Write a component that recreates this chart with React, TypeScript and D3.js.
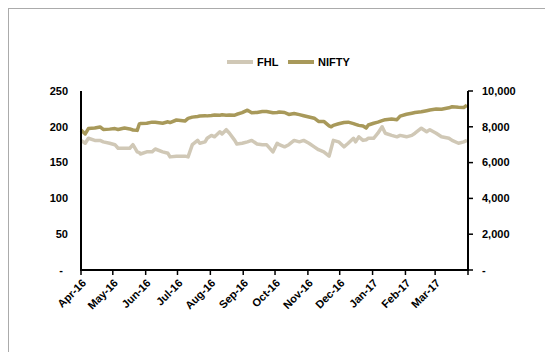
import React from "react";
import * as d3 from "d3";

const dates = [
  "2016-04-01", "2016-04-05", "2016-04-08", "2016-04-14", "2016-04-19", "2016-04-22", "2016-04-28",
  "2016-05-03", "2016-05-06", "2016-05-12", "2016-05-17", "2016-05-20", "2016-05-24", "2016-05-26",
  "2016-05-27", "2016-06-02", "2016-06-07", "2016-06-10", "2016-06-17", "2016-06-22", "2016-06-24",
  "2016-06-30", "2016-07-08", "2016-07-11", "2016-07-15", "2016-07-20", "2016-07-22", "2016-07-27",
  "2016-07-29", "2016-08-02", "2016-08-05", "2016-08-10", "2016-08-12", "2016-08-16", "2016-08-19",
  "2016-08-24", "2016-08-26", "2016-08-31", "2016-09-05", "2016-09-09", "2016-09-14", "2016-09-19",
  "2016-09-23", "2016-09-29", "2016-10-03", "2016-10-05", "2016-10-10", "2016-10-14", "2016-10-19",
  "2016-10-24", "2016-10-28", "2016-11-02", "2016-11-07", "2016-11-11", "2016-11-16", "2016-11-21",
  "2016-11-23", "2016-11-25", "2016-11-30", "2016-12-05", "2016-12-09", "2016-12-14", "2016-12-16",
  "2016-12-19", "2016-12-23", "2016-12-26", "2016-12-28", "2017-01-02", "2017-01-06", "2017-01-10",
  "2017-01-13", "2017-01-19", "2017-01-24", "2017-01-27", "2017-02-02", "2017-02-07", "2017-02-10",
  "2017-02-16", "2017-02-21", "2017-02-24", "2017-03-02", "2017-03-07", "2017-03-14", "2017-03-17",
  "2017-03-23", "2017-03-28", "2017-03-31",
];

const fhl = [
  181, 177, 184, 181, 181, 179, 177,
  175, 170, 170, 170, 175, 165, 164,
  162, 165, 165, 169, 165, 163, 158,
  159, 159, 158, 175, 181, 177, 179,
  184, 188, 186, 193, 190, 196, 191,
  181, 176, 177, 179, 181, 176, 175,
  175, 165, 177, 175, 172, 175, 181,
  179, 181, 177, 172, 168, 165, 159,
  170, 181, 179, 172, 177, 184, 179,
  186, 181, 182, 184, 184, 191, 200,
  191, 188, 186, 188, 186, 188, 191,
  198, 193, 196, 191, 186, 184, 181,
  177, 179, 181,
];

const nifty = [
  7820, 7600, 7900, 7930, 7990, 7850, 7870,
  7900, 7850, 7930, 7880, 7820, 7800, 8160,
  8180, 8200, 8260, 8250, 8200, 8280, 8240,
  8380, 8320, 8470, 8540, 8580, 8600, 8620,
  8610, 8630, 8660, 8650, 8670, 8640, 8660,
  8650, 8700, 8790, 8930, 8790, 8800, 8850,
  8850, 8780, 8800, 8830, 8800, 8690, 8740,
  8680, 8620, 8550, 8480, 8300, 8300, 8050,
  8000, 8080, 8170, 8240, 8260, 8180, 8140,
  8080, 8040, 7930, 8100, 8200, 8260, 8340,
  8400, 8430, 8400, 8600, 8700, 8760, 8800,
  8840, 8900, 8940, 8990, 8980, 9060, 9120,
  9090, 9080, 9200,
];

const leftTicks = [0, 50, 100, 150, 200, 250];
const rightTicks = [0, 2000, 4000, 6000, 8000, 10000];
const seriesNames = ["FHL", "NIFTY"];
const seriesColors = ["#D0C8B6", "#A8995A"];

const W = 545;
const H = 352;
const font = "'Liberation Sans', Arial, sans-serif";

export default function App() {
  const parse = d3.timeParse("%Y-%m-%d");
  const t = dates.map((d) => parse(d) as Date);
  const start = new Date(2016, 3, 1);
  const end = new Date(2017, 3, 1);

  const x = d3.scaleTime([start, end], [81, 468]);
  const yL = d3.scaleLinear([0, 250], [270, 91]);
  const yR = d3.scaleLinear([0, 10000], [270, 91]);

  const monthTicks = d3.timeMonth.range(start, d3.timeDay.offset(end, 1));
  const fmtMonth = d3.timeFormat("%b-%y");
  const fmtR = d3.format(",");

  const lineL = d3
    .line<number>()
    .x((_, i) => x(t[i]))
    .y((d) => yL(d));
  const lineR = d3
    .line<number>()
    .x((_, i) => x(t[i]))
    .y((d) => yR(d));

  return (
    <svg width={W} height={H} style={{ position: "absolute", left: 0, top: 0 }}>
      <rect x={0} y={0} width={W} height={H} fill="#fff" />
      <rect x={8.5} y={8.5} width={560} height={380} fill="#fff" stroke="#ABABAB" />

      {/* legend */}
      {seriesNames.map((name, i) => {
        const lx = i === 0 ? 227 : 288;
        return (
          <g key={name}>
            <line x1={lx} x2={lx + 26} y1={62} y2={62} stroke={seriesColors[i]} strokeWidth={4} />
            <text x={lx + 30} y={66} fontFamily={font} fontWeight="bold" fontSize={11} fill="#000">
              {name}
            </text>
          </g>
        );
      })}

      {/* lines */}
      <path d={lineL(fhl) ?? ""} fill="none" stroke={seriesColors[0]} strokeWidth={3.5} strokeLinejoin="round" />
      <path d={lineR(nifty) ?? ""} fill="none" stroke={seriesColors[1]} strokeWidth={3.5} strokeLinejoin="round" />

      {/* left axis */}
      <line x1={81} x2={81} y1={yL(250)} y2={yL(0)} stroke="#000" strokeWidth={2} />
      {leftTicks.map((v) => (
        <text
          key={v}
          x={v === 0 ? 63 : 68}
          y={yL(v)}
          dy="0.35em"
          textAnchor="end"
          fontFamily={font}
          fontWeight="bold"
          fontSize={11}
        >
          {v === 0 ? "-" : v}
        </text>
      ))}

      {/* right axis */}
      <line x1={468} x2={468} y1={yR(10000)} y2={yR(0)} stroke="#000" strokeWidth={2} />
      {rightTicks.map((v) => (
        <g key={v}>
          <line x1={468} x2={473} y1={yR(v)} y2={yR(v)} stroke="#000" strokeWidth={1.5} />
          <text x={482} y={yR(v)} dy="0.35em" fontFamily={font} fontWeight="bold" fontSize={11}>
            {v === 0 ? "-" : fmtR(v)}
          </text>
        </g>
      ))}

      {/* bottom axis */}
      <line x1={80} x2={469} y1={270} y2={270} stroke="#000" strokeWidth={2} />
      {monthTicks.map((m, i) => (
        <g key={i}>
          <line x1={x(m)} x2={x(m)} y1={270} y2={275} stroke="#000" strokeWidth={1.5} />
          {i < monthTicks.length - 1 && (
            <text
              transform={`translate(${x(m) + 3},281) rotate(-45)`}
              textAnchor="end"
              dy="0.35em"
              fontFamily={font}
              fontWeight="bold"
              fontSize={11}
            >
              {fmtMonth(m)}
            </text>
          )}
        </g>
      ))}
    </svg>
  );
}
